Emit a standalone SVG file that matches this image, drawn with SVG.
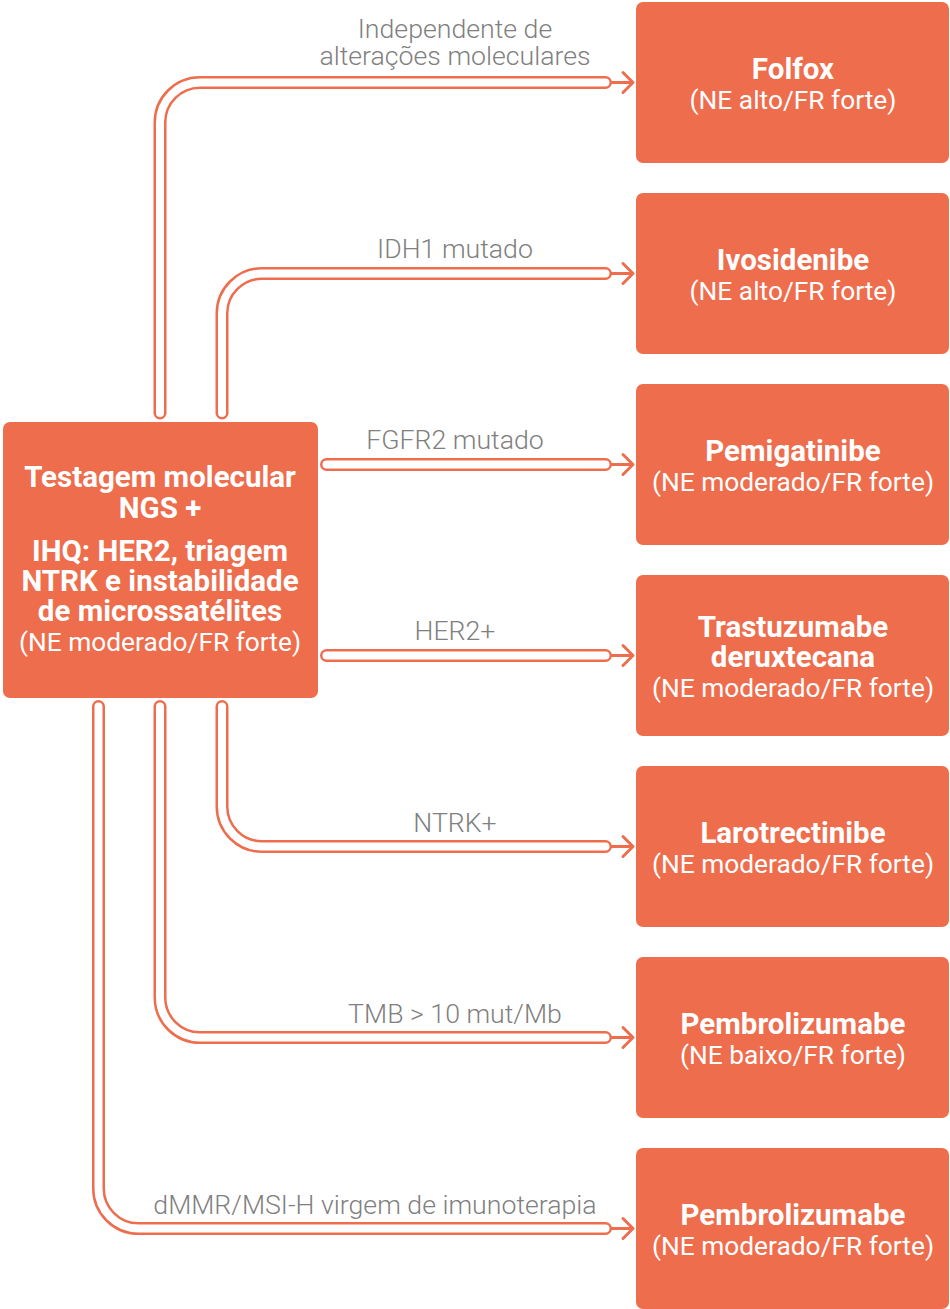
<svg xmlns="http://www.w3.org/2000/svg" width="950" height="1309" viewBox="0 0 950 1309">
<style>
.box{fill:#EE6D4D}
.po{fill:none;stroke:#EE6D4D;stroke-width:13;stroke-linecap:round;stroke-linejoin:round}
.pi{fill:none;stroke:#FFFFFF;stroke-width:8;stroke-linecap:round;stroke-linejoin:round}
.ar{fill:none;stroke:#EE6D4D;stroke-width:3;stroke-linecap:round;stroke-linejoin:round}
.lbl{font-family:Roboto,"Liberation Sans",sans-serif;font-size:26.7px;font-weight:300;fill:#808080;text-anchor:middle}
.t{font-family:Roboto,"Liberation Sans",sans-serif;font-size:29.5px;font-weight:700;fill:#FFFFFF;text-anchor:middle}
.s{font-family:Roboto,"Liberation Sans",sans-serif;font-size:26.3px;font-weight:400;fill:#FFFFFF;text-anchor:middle}
</style>
<g id="connectors">
<path class="po" d="M160,413 V122.5 A40,40 0 0 1 200,82.5 H605.5"/>
<path class="pi" d="M160,413 V122.5 A40,40 0 0 1 200,82.5 H605.5"/>
<path class="po" d="M222,413 V313.5 A40,40 0 0 1 262,273.5 H605.5"/>
<path class="pi" d="M222,413 V313.5 A40,40 0 0 1 262,273.5 H605.5"/>
<path class="po" d="M326.5,464.5 H605.5"/>
<path class="pi" d="M326.5,464.5 H605.5"/>
<path class="po" d="M326.5,655.5 H605.5"/>
<path class="pi" d="M326.5,655.5 H605.5"/>
<path class="po" d="M222,706.5 V806.5 A40,40 0 0 0 262,846.5 H605.5"/>
<path class="pi" d="M222,706.5 V806.5 A40,40 0 0 0 262,846.5 H605.5"/>
<path class="po" d="M160,706.5 V997.5 A40,40 0 0 0 200,1037.5 H605.5"/>
<path class="pi" d="M160,706.5 V997.5 A40,40 0 0 0 200,1037.5 H605.5"/>
<path class="po" d="M98.5,706.5 V1188.5 A40,40 0 0 0 138.5,1228.5 H605.5"/>
<path class="pi" d="M98.5,706.5 V1188.5 A40,40 0 0 0 138.5,1228.5 H605.5"/>
<path class="ar" d="M612,82.5 H633 M623,72.5 L633,82.5 L623,92.5"/>
<path class="ar" d="M612,273.5 H633 M623,263.5 L633,273.5 L623,283.5"/>
<path class="ar" d="M612,464.5 H633 M623,454.5 L633,464.5 L623,474.5"/>
<path class="ar" d="M612,655.5 H633 M623,645.5 L633,655.5 L623,665.5"/>
<path class="ar" d="M612,846.5 H633 M623,836.5 L633,846.5 L623,856.5"/>
<path class="ar" d="M612,1037.5 H633 M623,1027.5 L633,1037.5 L623,1047.5"/>
<path class="ar" d="M612,1228.5 H633 M623,1218.5 L633,1228.5 L623,1238.5"/>
<text class="lbl" x="455" y="38">Independente de</text>
<text class="lbl" x="455" y="65">alterações moleculares</text>
<text class="lbl" x="455" y="258">IDH1 mutado</text>
<text class="lbl" x="455" y="449">FGFR2 mutado</text>
<text class="lbl" x="455" y="640">HER2+</text>
<text class="lbl" x="455" y="832">NTRK+</text>
<text class="lbl" x="455" y="1023">TMB &gt; 10 mut/Mb</text>
<text class="lbl" x="375" y="1214">dMMR/MSI-H virgem de imunoterapia</text>
</g>
<g id="source">
<rect class="box" x="3" y="422" width="315" height="276" rx="7"/>
<text class="t" x="160" y="487">Testagem molecular</text>
<text class="t" x="160" y="518">NGS +</text>
<text class="t" x="160" y="561">IHQ: HER2, triagem</text>
<text class="t" x="160" y="591">NTRK e instabilidade</text>
<text class="t" x="160" y="621">de microssatélites</text>
<text class="s" x="160" y="651">(NE moderado/FR forte)</text>
</g>
<g id="folfox">
<rect class="box" x="636" y="2" width="313" height="161" rx="7"/>
<text class="t" x="793" y="79">Folfox</text>
<text class="s" x="793" y="109">(NE alto/FR forte)</text>
</g>
<g id="ivosidenibe">
<rect class="box" x="636" y="193" width="313" height="161" rx="7"/>
<text class="t" x="793" y="270">Ivosidenibe</text>
<text class="s" x="793" y="300">(NE alto/FR forte)</text>
</g>
<g id="pemigatinibe">
<rect class="box" x="636" y="384" width="313" height="161" rx="7"/>
<text class="t" x="793" y="461">Pemigatinibe</text>
<text class="s" x="793" y="491">(NE moderado/FR forte)</text>
</g>
<g id="trastuzumabe">
<rect class="box" x="636" y="575" width="313" height="161" rx="7"/>
<text class="t" x="793" y="637">Trastuzumabe</text>
<text class="t" x="793" y="667">deruxtecana</text>
<text class="s" x="793" y="697">(NE moderado/FR forte)</text>
</g>
<g id="larotrectinibe">
<rect class="box" x="636" y="766" width="313" height="161" rx="7"/>
<text class="t" x="793" y="843">Larotrectinibe</text>
<text class="s" x="793" y="873">(NE moderado/FR forte)</text>
</g>
<g id="pembrolizumabe1">
<rect class="box" x="636" y="957" width="313" height="161" rx="7"/>
<text class="t" x="793" y="1034">Pembrolizumabe</text>
<text class="s" x="793" y="1064">(NE baixo/FR forte)</text>
</g>
<g id="pembrolizumabe2">
<rect class="box" x="636" y="1148" width="313" height="161" rx="7"/>
<text class="t" x="793" y="1225">Pembrolizumabe</text>
<text class="s" x="793" y="1255">(NE moderado/FR forte)</text>
</g>
</svg>
